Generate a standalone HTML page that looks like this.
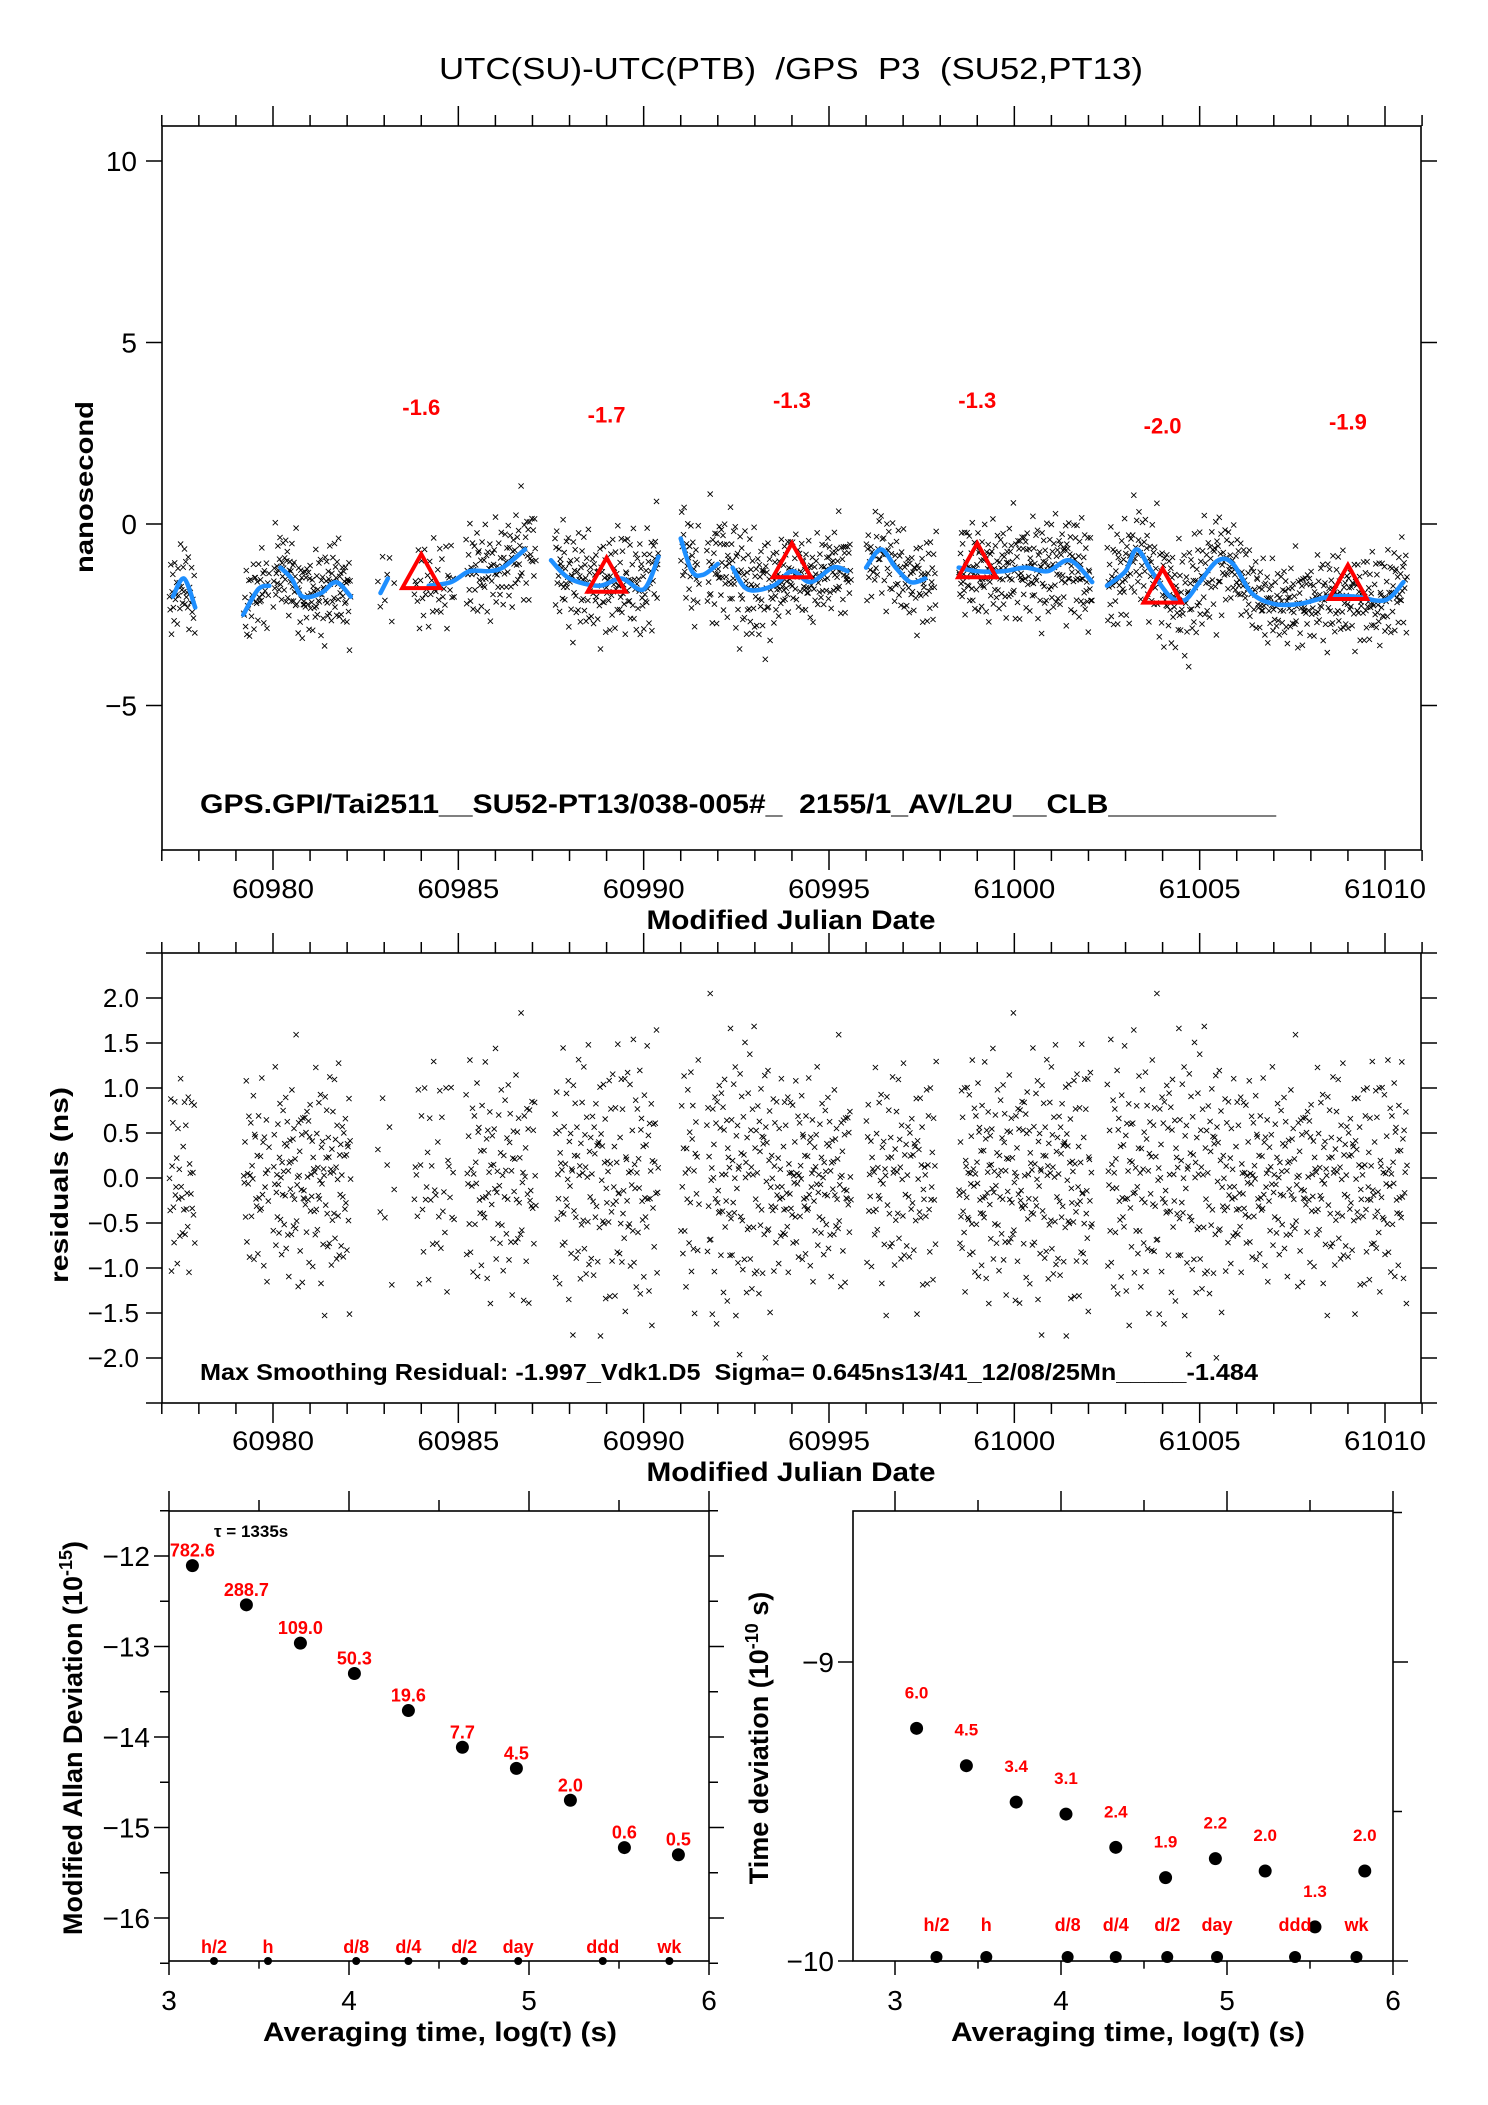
<!DOCTYPE html>
<html><head><meta charset="utf-8"><title>UTC(SU)-UTC(PTB) GPS P3</title>
<style>
html,body{margin:0;padding:0;background:#fff;}
svg{display:block;font-family:"Liberation Sans",Arial,sans-serif;}
text{white-space:pre;}
</style></head>
<body>
<svg id="chart" xmlns="http://www.w3.org/2000/svg" width="1488" height="2105" viewBox="0 0 1488 2105">
<rect x="0" y="0" width="1488" height="2105" fill="#fff"/>
<text x="791" y="79" font-size="31" text-anchor="middle" textLength="704" lengthAdjust="spacingAndGlyphs" xml:space="preserve">UTC(SU)-UTC(PTB)  /GPS  P3  (SU52,PT13)</text>
<g id="p1"></g>
<g id="p2"></g>
<g id="p3"></g>
<g id="p4"></g>
</svg>
<script>
// ---- data ----
const segStart = [60977.2,60979.2,60980.0,60982.8,60983.8,60985.2,60987.6,60991.0,60991.7,60996.0,60998.5,61002.5];
const segEnd   = [60977.9,60979.9,60982.1,60983.3,60984.9,60987.1,60990.4,60991.5,60995.6,60997.9,61002.1,61010.6];
const segCount = [40,40,150,8,40,110,180,30,270,110,260,520];
const curveMjd = [60977.3,60977.6,60977.9,null,60979.2,60979.6,60979.9,null,60980.2,60980.5,60980.8,60981.3,60981.7,60982.1,null,60982.9,60983.1,null,60984.2,60984.8,60985.3,60985.8,60986.2,60986.8,null,60987.5,60988.0,60988.8,60989.4,60990.0,60990.4,null,60991.0,60991.3,60991.6,60992.0,null,60992.4,60992.8,60993.5,60994.0,60994.5,60995.1,60995.5,null,60996.0,60996.4,60996.8,60997.2,60997.6,null,60998.5,60999.0,60999.7,61000.3,61000.9,61001.5,61002.1,null,61002.5,61003.0,61003.3,61003.7,61004.2,61004.6,61005.0,61005.5,61005.9,61006.4,61007.0,61007.7,61008.5,61009.2,61010.0,61010.5];
const curveVal = [-2.0,-1.5,-2.3,null,-2.5,-1.8,-1.7,null,-1.2,-1.5,-2.0,-1.9,-1.6,-2.0,null,-1.9,-1.5,null,-1.7,-1.6,-1.3,-1.3,-1.2,-0.7,null,-1.0,-1.5,-1.7,-1.5,-1.8,-0.9,null,-0.4,-1.3,-1.4,-1.1,null,-1.2,-1.8,-1.7,-1.3,-1.6,-1.2,-1.3,null,-1.2,-0.7,-1.2,-1.6,-1.5,null,-1.2,-1.3,-1.3,-1.2,-1.3,-1.0,-1.6,null,-1.7,-1.3,-0.7,-1.3,-2.0,-2.1,-1.6,-1.0,-1.1,-1.9,-2.2,-2.2,-2.0,-2.0,-2.1,-1.6];
const triMjd = [60984,60989,60994,60999,61004,61009];
const triVal = [-1.6,-1.7,-1.3,-1.3,-2.0,-1.9];
const triLabel = ["-1.6","-1.7","-1.3","-1.3","-2.0","-1.9"];
const triLabelPos = [3.0,2.8,3.2,3.2,2.5,2.6];
const resid = [0.3,-0.5,0.8,-1.1,0.1,0.6,-0.2,-0.8,1.2,-0.4,0.0,0.5,-1.4,0.9,-0.1,0.3,-0.7,1.5,-0.3,0.2,
-0.9,0.4,-0.6,1.0,-1.2,0.7,-0.2,0.1,-0.5,0.8,-1.7,0.3,0.6,-0.3,1.3,-0.8,0.0,-0.4,0.9,-1.0,
0.2,-0.1,0.5,-0.6,1.8,-0.9,0.4,-0.2,0.7,-1.3,0.1,0.6,-0.7,0.3,-0.4,1.1,-1.5,0.2,0.8,-0.1,
-0.6,0.4,-1.0,0.9,0.0,-0.3,0.5,-0.8,1.4,-0.2,0.3,-1.1,0.6,-0.5,0.1,0.7,-1.9,0.4,-0.3,1.0,
-0.7,0.2,0.5,-0.4,1.6,-1.2,0.0,0.3,-0.6,0.8,-0.1,-0.9,0.4,1.2,-0.5,0.2,-1.4,0.6,-0.2,0.9,
0.1,-0.8,0.5,-0.3,1.1,-1.0,0.3,0.7,-0.6,0.0,-1.6,0.4,0.8,-0.2,0.2,-0.7,1.3,-0.4,0.6,-1.1,
0.9,-0.3,0.1,-0.5,1.9,-0.8,0.2,0.4,-1.2,0.6,-0.1,0.3,-0.9,1.0,-0.4,0.5,-1.8,0.7,-0.2,0.0,
-0.6,1.4,-0.3,0.2,-1.0,0.8,0.1,-0.5,0.6,-1.3,0.3,1.1,-0.7,0.0,-0.2,0.9,-1.5,0.4,0.5,-0.1,
0.2,-0.9,1.7,-0.4,0.6,-1.1,0.3,-0.3,0.8,-0.6,0.1,1.2,-1.4,0.5,-0.2,0.7,-0.8,0.0,0.4,-1.7,
1.0,-0.5,0.2,0.6,-0.3,-1.0,0.9,0.1,-0.7,1.5,-0.2,0.3,-1.2,0.5,-0.4,0.8,-0.1,-0.6,1.1,-0.9,
0.4,0.0,-1.3,0.7,0.2,-0.5,1.6,-0.8,0.3,-0.2,0.6,-1.1,0.1,0.9,-0.4,-1.6,0.5,0.2,-0.7,1.3,
-0.3,0.8,-1.0,0.0,0.4,-0.6,1.0,-1.9,0.6,-0.1,0.3,-0.8,1.2,-0.5,0.2,0.7,-1.2,0.1,-0.3,0.5];
const tickLabelsX1 = ["60980","60985","60990","60995","61000","61005","61010"];
const tickValsX1 = [60980,60985,60990,60995,61000,61005,61010];
const tickLabelsY1 = ["10","5","0","\u22125"];
const tickValsY1 = [10,5,0,-5];
const tickLabelsY2 = ["2.0","1.5","1.0","0.5","0.0","\u22120.5","\u22121.0","\u22121.5","\u22122.0"];
const tickValsY2 = [2,1.5,1,0.5,0,-0.5,-1,-1.5,-2];
const tauLog = [3.13,3.43,3.73,4.03,4.33,4.63,4.93,5.23,5.53,5.83];
const mdevVal = [782.6,288.7,109.0,50.3,19.6,7.7,4.5,2.0,0.6,0.5];
const mdevLabel = ["782.6","288.7","109.0","50.3","19.6","7.7","4.5","2.0","0.6","0.5"];
const tdevVal = [6.0,4.5,3.4,3.1,2.4,1.9,2.2,2.0,1.3,2.0];
const tdevLabel = ["6.0","4.5","3.4","3.1","2.4","1.9","2.2","2.0","1.3","2.0"];
const markLog = [3.25,3.55,4.04,4.33,4.64,4.94,5.41,5.78];
const markLabel = ["h/2","h","d/8","d/4","d/2","day","ddd","wk"];

// ---- helpers ----
const NS="http://www.w3.org/2000/svg";
function mk(parent,tag,attrs,text){const e=document.createElementNS(NS,tag);for(const k in attrs)e.setAttribute(k,attrs[k]);if(text!==undefined)e.textContent=text;parent.appendChild(e);return e;}
function lin(d0,d1,r0,r1){return v=>r0+(v-d0)*(r1-r0)/(d1-d0);}

const X1 = lin(60980,61010,273,1385);
const Y1 = lin(0,10,524,161);
const Y2 = lin(0,2,1178,998);
const XA = lin(3,6,169,709);
const YA = lin(-12,-16,1556,1918);
const XT = lin(3,6,895,1393);
const YT = lin(-9,-10,1662,1961);

function frame(g,x0,y0,x1,y1,name){
  const r=mk(g,'rect',{x:x0,y:y0,width:x1-x0,height:y1-y0,fill:'none',stroke:'#000','stroke-width':1.6});
  
  
}
function xTicks(g,X,from,to,step,majorEvery,y0,y1,topLen,botLen){
  for(let v=from;v<=to+1e-9;v+=step){
    const maj=Math.abs(Math.round(v/majorEvery)*majorEvery-v)<1e-6;
    const x=X(v);
    mk(g,'line',{x1:x,x2:x,y1:y0,y2:y0-(maj?topLen:topLen*0.55),stroke:'#000','stroke-width':1.5});
    if(botLen) mk(g,'line',{x1:x,x2:x,y1:y1,y2:y1+(maj?botLen:botLen*0.55),stroke:'#000','stroke-width':1.5});
  }
}
function yTicks(g,Y,from,to,step,majorEvery,x0,x1,len,leftMajorOnly){
  for(let v=from;v<=to+1e-9;v+=step){
    const maj=Math.abs(Math.round(v/majorEvery)*majorEvery-v)<1e-6;
    const y=Y(v);
    if(!leftMajorOnly||maj) mk(g,'line',{x1:x0,x2:x0-(maj?len:len*0.6),y1:y,y2:y,stroke:'#000','stroke-width':1.5});
    mk(g,'line',{x1:x1,x2:x1+(maj?len:len*0.6),y1:y,y2:y,stroke:'#000','stroke-width':1.5});
  }
}
function cross(g,x,y){
  const s=2.6;
  mk(g,'path',{d:`M${(x-s).toFixed(1)} ${(y-s).toFixed(1)}L${(x+s).toFixed(1)} ${(y+s).toFixed(1)}M${(x-s).toFixed(1)} ${(y+s).toFixed(1)}L${(x+s).toFixed(1)} ${(y-s).toFixed(1)}`,stroke:'#000','stroke-width':0.9,fill:'none'});
}
function smoothAt(t){
  let best=null,bd=1e9;
  for(let i=0;i<curveMjd.length-1;i++){
    const a=curveMjd[i],b=curveMjd[i+1];
    if(a===null||b===null)continue;
    if(t>=a&&t<=b){return curveVal[i]+(curveVal[i+1]-curveVal[i])*(t-a)/(b-a);}
  }
  for(let i=0;i<curveMjd.length;i++){if(curveMjd[i]===null)continue;const d=Math.abs(curveMjd[i]-t);if(d<bd){bd=d;best=curveVal[i];}}
  return best;
}
function catmull(pts){
  if(pts.length<2)return '';
  let d='M'+pts[0][0].toFixed(1)+' '+pts[0][1].toFixed(1);
  for(let i=0;i<pts.length-1;i++){
    const p0=pts[i>0?i-1:i],p1=pts[i],p2=pts[i+1],p3=pts[i+2<pts.length?i+2:i+1];
    const c1x=p1[0]+(p2[0]-p0[0])/6,c1y=p1[1]+(p2[1]-p0[1])/6;
    const c2x=p2[0]-(p3[0]-p1[0])/6,c2y=p2[1]-(p3[1]-p1[1])/6;
    d+=`C${c1x.toFixed(1)} ${c1y.toFixed(1)} ${c2x.toFixed(1)} ${c2y.toFixed(1)} ${p2[0].toFixed(1)} ${p2[1].toFixed(1)}`;
  }
  return d;
}

// ---- panel 1 ----
const g1=document.getElementById('p1');
frame(g1,162,126,1421,850,'time-series-plot-frame');
xTicks(g1,X1,60977,61011,1,5,126,850,20,20);
yTicks(g1,Y1,-5,10,5,5,162,1421,16,false);
tickValsX1.forEach((v,i)=>{
  const t=mk(g1,'text',{x:X1(v),y:898,'font-size':27,'text-anchor':'middle',textLength:82,lengthAdjust:'spacingAndGlyphs'},tickLabelsX1[i]);
  
  
});
tickValsY1.forEach((v,i)=>{
  const t=mk(g1,'text',{x:137,y:Y1(v)+10,'font-size':28,'text-anchor':'end'},tickLabelsY1[i]);
  
  
});
{const t=mk(g1,'text',{x:791,y:929,'font-size':27,'font-weight':'bold','text-anchor':'middle',textLength:289,lengthAdjust:'spacingAndGlyphs'},'Modified Julian Date');

}
{const t=mk(g1,'text',{x:0,y:0,'font-size':25,'font-weight':'bold','text-anchor':'middle',transform:'translate(93,487) rotate(-90)',textLength:172,lengthAdjust:'spacingAndGlyphs'},'nanosecond');

}
const pts1=mk(g1,'g',{});


let ri=0;
const allPts=[];
segStart.forEach((s,k)=>{
  const n=segCount[k];
  for(let j=0;j<n;j++){
    const t=s+(segEnd[k]-s)*(j+0.5)/n;
    const r=resid[ri%resid.length]*(1+0.15*((Math.floor(ri/resid.length))%3-1));
    const r2=resid[(ri*7+3)%resid.length];
    ri++;
    allPts.push([t,r*0.85+r2*0.2]);
  }
});
allPts.forEach(p=>{cross(pts1,X1(p[0]),Y1(smoothAt(p[0])+p[1]));});
{let d='';let seg=[];
const flush=()=>{d+=catmull(seg);seg=[];};
curveMjd.forEach((m,i)=>{if(m===null){flush();return;}seg.push([X1(m),Y1(curveVal[i])]);});
flush();
const c=mk(g1,'path',{d:d,fill:'none',stroke:'#1e8fff','stroke-width':4.5,'stroke-linejoin':'round','stroke-linecap':'round'});

}
triMjd.forEach((m,i)=>{
  const x=X1(m),y=Y1(triVal[i]);
  const tr=mk(g1,'path',{d:`M${x} ${y-28}L${x+19} ${y+6}L${x-19} ${y+6}Z`,fill:'none',stroke:'#ff0000','stroke-width':4});
  
  
  const t=mk(g1,'text',{x:x,y:Y1(triLabelPos[i]),'font-size':22,'font-weight':'bold',fill:'#ff0000','text-anchor':'middle'},triLabel[i]);
  
  
});
{const t=mk(g1,'text',{x:200,y:813,'font-size':27,'font-weight':'bold',textLength:1076,lengthAdjust:'spacingAndGlyphs'},'GPS.GPI/Tai2511__SU52-PT13/038-005#_  2155/1_AV/L2U__CLB__________');

}

// ---- panel 2 ----
const g2=document.getElementById('p2');
frame(g2,162,953,1421,1403,'residuals-plot-frame');
xTicks(g2,X1,60977,61011,1,5,953,1403,20,20);
yTicks(g2,Y2,-2.5,2.5,0.5,0.5,162,1421,16,false);
tickValsX1.forEach((v,i)=>{
  const t=mk(g2,'text',{x:X1(v),y:1450,'font-size':27,'text-anchor':'middle',textLength:82,lengthAdjust:'spacingAndGlyphs'},tickLabelsX1[i]);
  
  
});
tickValsY2.forEach((v,i)=>{
  const t=mk(g2,'text',{x:139,y:Y2(v)+9,'font-size':26,'text-anchor':'end'},tickLabelsY2[i]);
  
  
});
{const t=mk(g2,'text',{x:791,y:1481,'font-size':27,'font-weight':'bold','text-anchor':'middle',textLength:289,lengthAdjust:'spacingAndGlyphs'},'Modified Julian Date');

}
{const t=mk(g2,'text',{x:0,y:0,'font-size':25,'font-weight':'bold','text-anchor':'middle',transform:'translate(68,1185) rotate(-90)',textLength:196,lengthAdjust:'spacingAndGlyphs'},'residuals (ns)');

}
const pts2=mk(g2,'g',{});


allPts.forEach(p=>{const r=Math.max(-2.05,Math.min(2.05,p[1]));cross(pts2,X1(p[0]),Y2(r));});
{const t=mk(g2,'text',{x:200,y:1380,'font-size':23,'font-weight':'bold',textLength:1058,lengthAdjust:'spacingAndGlyphs'},'Max Smoothing Residual: -1.997_Vdk1.D5  Sigma= 0.645ns13/41_12/08/25Mn_____-1.484');

}

// ---- panel 3 (MDEV) ----
const g3=document.getElementById('p3');
frame(g3,169,1511,709,1961,'mdev-plot-frame');
xTicks(g3,XA,3,6,0.5,1,1511,1961,20,14);
yTicks(g3,YA,-16.5,-11.5,0.5,1,169,709,15,false);
[3,4,5,6].forEach(v=>{
  const t=mk(g3,'text',{x:XA(v),y:2010,'font-size':28,'text-anchor':'middle'},String(v));
  
  
});
[-12,-13,-14,-15,-16].forEach(v=>{
  const t=mk(g3,'text',{x:150,y:YA(v)+10,'font-size':28,'text-anchor':'end'},'\u2212'+(-v));
  
  
});
{const t=mk(g3,'text',{x:440,y:2041,'font-size':27,'font-weight':'bold','text-anchor':'middle',textLength:354,lengthAdjust:'spacingAndGlyphs'},'Averaging time, log(\u03c4) (s)');

}
{const t=mk(g3,'text',{x:0,y:0,'font-size':27,'font-weight':'bold','text-anchor':'middle',transform:'translate(82,1738) rotate(-90)'});


t.textContent='Modified Allan Deviation (10';
mk(t,'tspan',{'font-size':18,dy:-10},'-15');
mk(t,'tspan',{dy:10},')');}
{const t=mk(g3,'text',{x:214,y:1537,'font-size':17,'font-weight':'bold'},'\u03c4 = 1335s');

}
tauLog.forEach((lx,i)=>{
  const y=YA(Math.log10(mdevVal[i]*1e-15));
  const c=mk(g3,'circle',{cx:XA(lx),cy:y,r:6.5,fill:'#000'});
  
  
  const t=mk(g3,'text',{x:XA(lx),y:y-9,'font-size':18,'font-weight':'bold',fill:'#ff0000','text-anchor':'middle'},mdevLabel[i]);
  
  
});
markLog.forEach((lx,i)=>{
  const c=mk(g3,'circle',{cx:XA(lx),cy:1961,r:4,fill:'#000'});
  
  
  const t=mk(g3,'text',{x:XA(lx),y:1953,'font-size':18,'font-weight':'bold',fill:'#ff0000','text-anchor':'middle'},markLabel[i]);
  
  
});

// ---- panel 4 (TDEV) ----
const g4=document.getElementById('p4');
frame(g4,853,1511,1393,1961,'tdev-plot-frame');
xTicks(g4,XT,3,6,0.5,1,1511,1961,20,14);
yTicks(g4,YT,-10,-8.5,0.5,1,853,1393,15,true);
[3,4,5,6].forEach(v=>{
  const t=mk(g4,'text',{x:XT(v),y:2010,'font-size':28,'text-anchor':'middle'},String(v));
  
  
});
[-9,-10].forEach(v=>{
  const t=mk(g4,'text',{x:834,y:YT(v)+10,'font-size':28,'text-anchor':'end'},'\u2212'+(-v));
  
  
});
{const t=mk(g4,'text',{x:1128,y:2041,'font-size':27,'font-weight':'bold','text-anchor':'middle',textLength:354,lengthAdjust:'spacingAndGlyphs'},'Averaging time, log(\u03c4) (s)');

}
{const t=mk(g4,'text',{x:0,y:0,'font-size':27,'font-weight':'bold','text-anchor':'middle',transform:'translate(768,1738) rotate(-90)'});


t.textContent='Time deviation (10';
mk(t,'tspan',{'font-size':18,dy:-10},'-10');
mk(t,'tspan',{dy:10},' s)');}
tauLog.forEach((lx,i)=>{
  const y=YT(Math.log10(tdevVal[i]*1e-10));
  const c=mk(g4,'circle',{cx:XT(lx),cy:y,r:6.5,fill:'#000'});
  
  
  const t=mk(g4,'text',{x:XT(lx),y:y-30,'font-size':17,'font-weight':'bold',fill:'#ff0000','text-anchor':'middle'},tdevLabel[i]);
  
  
});
markLog.forEach((lx,i)=>{
  const c=mk(g4,'circle',{cx:XT(lx),cy:1957,r:6,fill:'#000'});
  
  
  const t=mk(g4,'text',{x:XT(lx),y:1931,'font-size':18,'font-weight':'bold',fill:'#ff0000','text-anchor':'middle'},markLabel[i]);
  
  
});
</script>
</body></html>
